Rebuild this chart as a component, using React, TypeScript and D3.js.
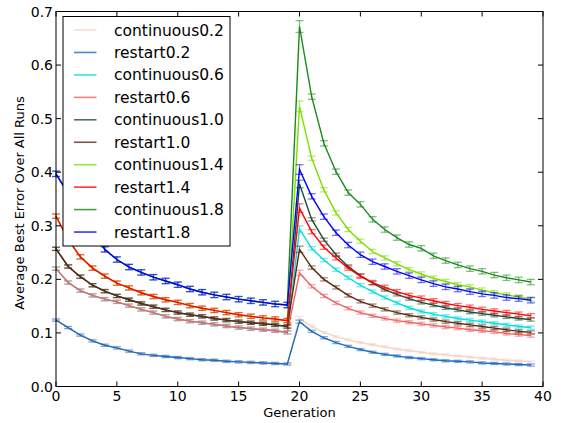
import React from 'react';
import * as d3 from 'd3';

// generations 0..39 (restart happens at generation 20)
const generations = d3.range(40);
const xTicks = [0, 5, 10, 15, 20, 25, 30, 35, 40];
const yTicks = [0.0, 0.1, 0.2, 0.3, 0.4, 0.5, 0.6, 0.7];

// first phase (gen 0-19) is the same for continuous and restart runs
const early02 = [0.124, 0.110, 0.096, 0.085, 0.077, 0.072, 0.066, 0.061, 0.058, 0.056, 0.054, 0.052, 0.050, 0.049, 0.047, 0.046, 0.045, 0.044, 0.043, 0.042];
const early06 = [0.220, 0.194, 0.179, 0.170, 0.163, 0.158, 0.151, 0.144, 0.138, 0.131, 0.126, 0.122, 0.119, 0.116, 0.113, 0.110, 0.108, 0.106, 0.104, 0.101];
const early10 = [0.257, 0.224, 0.205, 0.189, 0.178, 0.169, 0.162, 0.155, 0.149, 0.143, 0.138, 0.134, 0.131, 0.127, 0.124, 0.121, 0.119, 0.117, 0.115, 0.112];
const early14 = [0.318, 0.274, 0.242, 0.221, 0.206, 0.193, 0.184, 0.175, 0.168, 0.162, 0.157, 0.151, 0.146, 0.142, 0.138, 0.134, 0.131, 0.128, 0.126, 0.123];
const early18 = [0.397, 0.360, 0.322, 0.288, 0.256, 0.237, 0.223, 0.213, 0.204, 0.197, 0.190, 0.182, 0.176, 0.171, 0.167, 0.163, 0.160, 0.157, 0.154, 0.152];

// second phase (gen 20-39)
const contLate02 = [0.127, 0.112, 0.101, 0.093, 0.087, 0.082, 0.078, 0.074, 0.070, 0.067, 0.064, 0.061, 0.059, 0.057, 0.055, 0.053, 0.051, 0.049, 0.048, 0.046];
const restLate02 = [0.121, 0.103, 0.091, 0.082, 0.075, 0.069, 0.064, 0.060, 0.057, 0.054, 0.052, 0.050, 0.048, 0.047, 0.046, 0.044, 0.043, 0.042, 0.041, 0.040];
const contLate06 = [0.294, 0.258, 0.236, 0.218, 0.203, 0.189, 0.177, 0.166, 0.156, 0.147, 0.140, 0.135, 0.131, 0.127, 0.124, 0.121, 0.118, 0.115, 0.112, 0.110];
const restLate06 = [0.212, 0.187, 0.169, 0.156, 0.146, 0.138, 0.132, 0.127, 0.123, 0.120, 0.117, 0.114, 0.111, 0.109, 0.106, 0.104, 0.102, 0.099, 0.097, 0.095];
const contLate10 = [0.378, 0.312, 0.274, 0.246, 0.224, 0.207, 0.193, 0.181, 0.172, 0.164, 0.157, 0.152, 0.147, 0.143, 0.139, 0.136, 0.133, 0.130, 0.127, 0.125];
const restLate10 = [0.256, 0.222, 0.200, 0.185, 0.170, 0.159, 0.151, 0.144, 0.138, 0.133, 0.129, 0.125, 0.121, 0.118, 0.115, 0.112, 0.109, 0.106, 0.103, 0.101];
const contLate14 = [0.523, 0.426, 0.367, 0.324, 0.293, 0.271, 0.252, 0.240, 0.229, 0.218, 0.210, 0.202, 0.196, 0.190, 0.186, 0.180, 0.175, 0.171, 0.167, 0.163];
const restLate14 = [0.333, 0.289, 0.260, 0.240, 0.221, 0.206, 0.194, 0.185, 0.177, 0.170, 0.165, 0.160, 0.155, 0.151, 0.148, 0.144, 0.141, 0.138, 0.135, 0.132];
const contLate18 = [0.672, 0.541, 0.454, 0.401, 0.362, 0.340, 0.312, 0.293, 0.278, 0.265, 0.258, 0.244, 0.235, 0.227, 0.220, 0.215, 0.208, 0.203, 0.199, 0.195];
const restLate18 = [0.405, 0.355, 0.317, 0.287, 0.264, 0.246, 0.233, 0.224, 0.215, 0.207, 0.199, 0.192, 0.186, 0.182, 0.177, 0.173, 0.170, 0.166, 0.164, 0.161];

const labels = ['continuous0.2', 'restart0.2', 'continuous0.6', 'restart0.6', 'continuous1.0', 'restart1.0', 'continuous1.4', 'restart1.4', 'continuous1.8', 'restart1.8'];
const colors = ['#f5d3c8', '#1f6cbf', '#00dcdc', '#f06262', '#1b4d35', '#5c2a12', '#7ddf00', '#ff0000', '#1a8a1a', '#0000ff'];
const errs = [0.002, 0.002, 0.003, 0.003, 0.003, 0.003, 0.004, 0.004, 0.005, 0.005];
const peakErrs = [0.004, 0.003, 0.006, 0.005, 0.007, 0.006, 0.010, 0.008, 0.011, 0.009];

const series = [
  early02.concat(contLate02), early02.concat(restLate02),
  early06.concat(contLate06), early06.concat(restLate06),
  early10.concat(contLate10), early10.concat(restLate10),
  early14.concat(contLate14), early14.concat(restLate14),
  early18.concat(contLate18), early18.concat(restLate18),
].map((values, i) => ({ name: labels[i], color: colors[i], values, err: errs[i], peakErr: peakErrs[i] }));

const font = 'DejaVu Sans, sans-serif';

export default function App() {
  const width = 562;
  const height = 423;
  const margin = { top: 11.5, right: 19, bottom: 36.5, left: 56 };
  const innerW = width - margin.left - margin.right;
  const innerH = height - margin.top - margin.bottom;

  const x = d3.scaleLinear().domain([0, 40]).range([0, innerW]);
  const y = d3.scaleLinear().domain([0, 0.7]).range([innerH, 0]);

  const line = d3.line<number>()
    .x((d, i) => x(generations[i]))
    .y(d => y(d));

  const tickLen = 5;

  return (
    <svg width={width} height={height} style={{ position: 'absolute', left: 0, top: 0, background: '#fff' }}>
      <g transform={`translate(${margin.left},${margin.top})`}>
        {series.map(s => (
          <g key={s.name}>
            <path d={line(s.values) || ''} fill="none" stroke={s.color} strokeWidth={1.4} />
            {s.values.map((v, i) => {
              const e = i === 20 ? s.peakErr : s.err;
              const cx = x(generations[i]);
              const y1 = y(v - e);
              const y2 = y(v + e);
              return (
                <g key={i} stroke={s.color} strokeOpacity={0.55} strokeWidth={1.3}>
                  <line x1={cx} x2={cx} y1={y1} y2={y2} />
                  <line x1={cx - 4} x2={cx + 4} y1={y1} y2={y1} />
                  <line x1={cx - 4} x2={cx + 4} y1={y2} y2={y2} />
                </g>
              );
            })}
          </g>
        ))}

        {/* frame */}
        <rect x={0} y={0} width={innerW} height={innerH} fill="none" stroke="#000" strokeWidth={1} />

        {xTicks.map(t => (
          <g key={'x' + t}>
            <line x1={x(t)} x2={x(t)} y1={innerH} y2={innerH - tickLen} stroke="#000" />
            <line x1={x(t)} x2={x(t)} y1={0} y2={tickLen} stroke="#000" />
            <text x={x(t)} y={innerH + 14} textAnchor="middle" fontFamily={font} fontSize={14}>{t}</text>
          </g>
        ))}
        {yTicks.map(t => (
          <g key={'y' + t}>
            <line x1={0} x2={tickLen} y1={y(t)} y2={y(t)} stroke="#000" />
            <line x1={innerW} x2={innerW - tickLen} y1={y(t)} y2={y(t)} stroke="#000" />
            <text x={-3} y={y(t)} dy="0.36em" textAnchor="end" fontFamily={font} fontSize={14}>{t.toFixed(1)}</text>
          </g>
        ))}

        <text x={innerW / 2} y={innerH + 30} textAnchor="middle" fontFamily={font} fontSize={13}>Generation</text>
        <text transform={`translate(${-32},${innerH / 2 + 4}) rotate(-90)`} textAnchor="middle" fontFamily={font} fontSize={13}>Average Best Error Over All Runs</text>

        {/* legend */}
        <g transform="translate(7,5)">
          <rect x={0} y={0} width={167} height={229.5} fill="#fff" stroke="#000" strokeWidth={1} />
          {series.map((s, i) => (
            <g key={'l' + s.name} transform={`translate(0,${13.5 + i * 22.45})`}>
              <line x1={11} x2={33.5} y1={0} y2={0} stroke={s.color} strokeWidth={1.6} strokeOpacity={0.8} />
              <text x={51} y={0} dy="0.36em" fontFamily={font} fontSize={15.5}>{s.name}</text>
            </g>
          ))}
        </g>
      </g>
    </svg>
  );
}
